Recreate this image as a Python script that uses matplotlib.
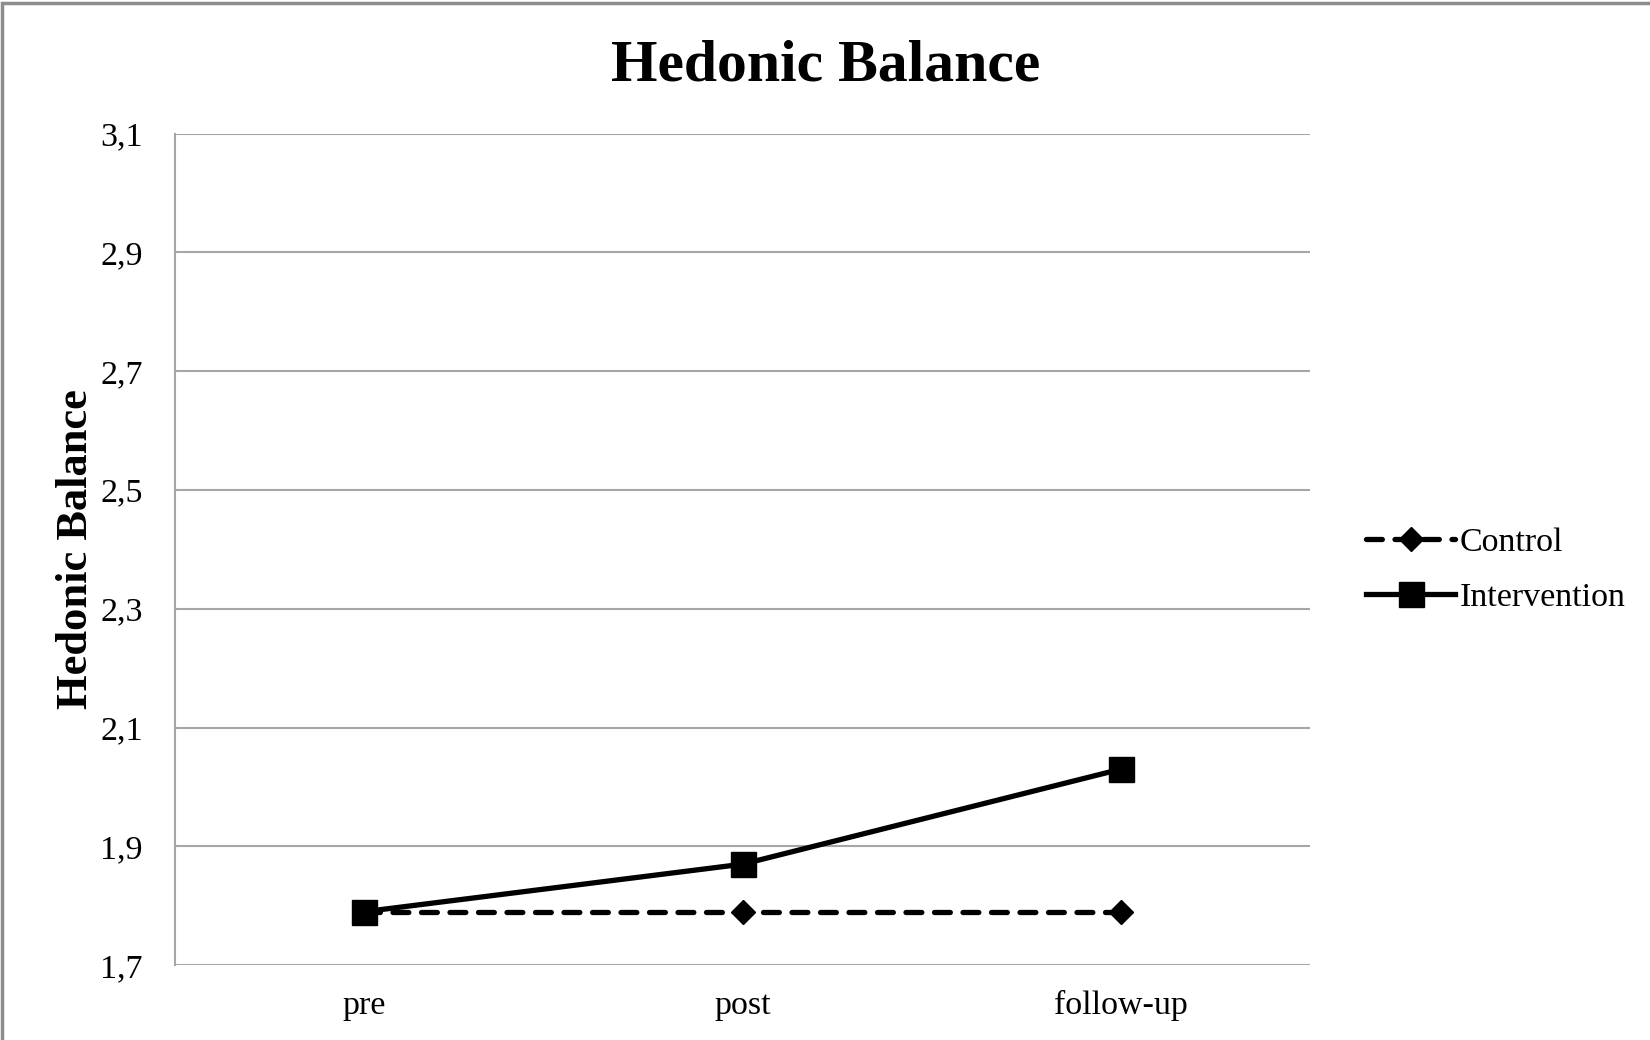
import matplotlib
matplotlib.use("Agg")
import matplotlib.pyplot as plt
from matplotlib.patches import Rectangle

# Data
timepoints = ["pre", "post", "follow-up"]
control = [1.79, 1.79, 1.79]
intervention = [1.79, 1.87, 2.03]
y_ticks = [1.7, 1.9, 2.1, 2.3, 2.5, 2.7, 2.9, 3.1]
y_tick_labels = ["1,7", "1,9", "2,1", "2,3", "2,5", "2,7", "2,9", "3,1"]

plt.rcParams["font.family"] = ["Liberation Serif", "DejaVu Serif"]

fig = plt.figure(figsize=(16.5, 10.4), dpi=100)
ax = fig.add_axes([0.1062, 0.072, 0.6878, 0.7995])

grid_col = "#a6a6a6"
x = list(range(len(timepoints)))

ax.plot(x, control, color="black", lw=3.8, ls=(0, (3.0, 2.4)),
        marker="D", markersize=12, dash_capstyle="round", label="Control", zorder=3)
ax.plot(x, intervention, color="black", lw=3.8, ls="-",
        marker="s", markersize=18, label="Intervention", zorder=4)

ax.set_xlim(-0.5, 2.5)
ax.set_ylim(1.7, 3.1)
ax.set_yticks(y_ticks)
ax.set_yticklabels(y_tick_labels)
ax.set_xticks(x)
ax.set_xticklabels(timepoints)
ax.tick_params(axis="both", length=0, labelsize=24.5)
ax.tick_params(axis="y", pad=23.5)
ax.tick_params(axis="x", pad=18)
ax.yaxis.grid(True, color=grid_col, lw=1.5)
ax.set_axisbelow(True)
for side in ("top", "right", "bottom"):
    ax.spines[side].set_visible(False)
ax.spines["left"].set_color(grid_col)
ax.spines["left"].set_linewidth(1.5)

ax.set_ylabel("Hedonic Balance", fontsize=32, fontweight="bold", labelpad=3)
fig.text(0.5006, 0.936, "Hedonic Balance", fontsize=43, fontweight="bold",
         ha="center", va="center")

leg = fig.legend(loc="center left", bbox_to_anchor=(0.8095, 0.452), frameon=False,
                 fontsize=24.5, handlelength=2.6, handletextpad=0.15, labelspacing=0.7)

# Outer frame on the top and left edges
fig.patches.append(Rectangle((0.0015, -0.01), 1.1, 1.007, transform=fig.transFigure,
                             fill=False, edgecolor="#8c8c8c", lw=2.5))

fig.savefig("out.png", dpi=100, facecolor="white")
